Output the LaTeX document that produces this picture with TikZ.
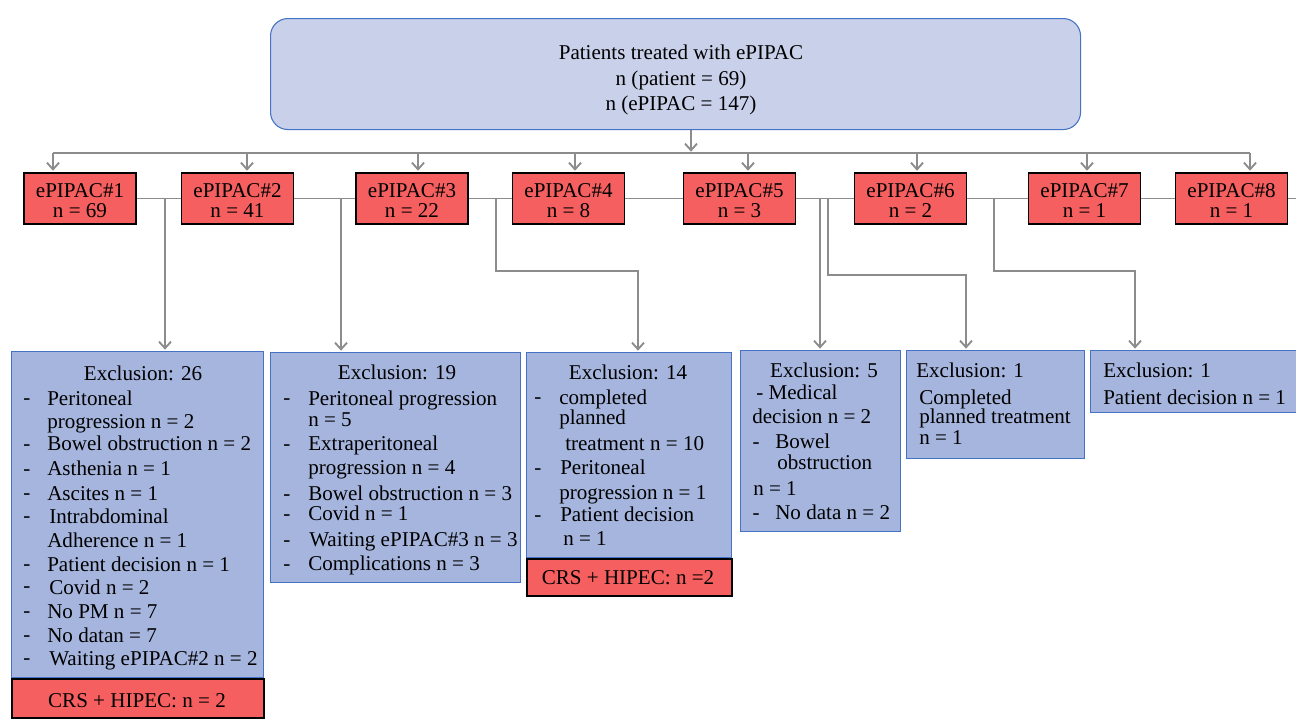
\documentclass[tikz,border=0pt]{standalone}
\usepackage{fontspec}
\setmainfont{Liberation Serif}
\usetikzlibrary{arrows.meta}
\definecolor{topfill}{HTML}{C9D1EA}
\definecolor{boxdraw}{HTML}{4472C4}
\definecolor{exfill}{HTML}{A5B5DD}
\definecolor{redfill}{HTML}{F65F5F}
\definecolor{conn}{HTML}{8C8C8C}
\newcounter{tlc}
\newcommand\tline[4][west]{\stepcounter{tlc}\node[tl,anchor=#1] (txt\arabic{tlc}) at (#2,#3) {#4};}
\newcommand\tdash[2]{\stepcounter{tlc}\node[tl,anchor=center] (dash\arabic{tlc}) at (#1,#2) {-};}
\newcommand\twol[2]{\raisebox{-3.6pt}[\height][\depth]{\begin{tabular}{@{}c@{}}#1\\#2\end{tabular}}}
\begin{document}
\begin{tikzpicture}[x=0.75pt,y=-0.75pt,
  every node/.style={font=\fontsize{15.8}{15}\selectfont},
  tl/.style={inner sep=0pt, text height=0.72em, text depth=0.22em, yshift=-3pt},
  topbox/.style={draw=boxdraw, fill=topfill, rounded corners=13pt, line width=0.8pt, inner sep=0pt, anchor=north west},
  exbox/.style={draw=boxdraw, fill=exfill, line width=0.8pt, inner sep=0pt, anchor=north west},
  crsbox/.style={draw=black, fill=redfill, line width=1.4pt, inner sep=0pt, anchor=north west},
  redbox/.style={draw=black, fill=redfill, line width=1.4pt, inner sep=0pt,
     minimum width=84pt, minimum height=38.25pt},
  conline/.style={draw=conn, line width=1.4pt},
  arr/.style={conline, -{Straight Barb[length=5pt,width=9pt]}, shorten >=1pt},
]
\useasboundingbox (0,0) rectangle (1296,726);

% top box
\node[topbox, minimum width=810*0.75pt, minimum height=111*0.75pt] (top) at (270,18) {};
\tline[center]{681}{52}{Patients treated with ePIPAC}
\tline[center]{681}{78}{n (patient = 69)}
\tline[center]{681}{103}{n (ePIPAC = 147)}

% ePIPAC boxes
\node[redbox] (b1) at (80,198.5) {\twol{ePIPAC\#1}{n = 69}};
\node[redbox] (b2) at (237.5,198.5) {\twol{ePIPAC\#2}{n = 41}};
\node[redbox] (b3) at (412,198.5) {\twol{ePIPAC\#3}{n = 22}};
\node[redbox] (b4) at (568.5,198.5) {\twol{ePIPAC\#4}{n = 8}};
\node[redbox] (b5) at (739.5,198.5) {\twol{ePIPAC\#5}{n = 3}};
\node[redbox] (b6) at (910.5,198.5) {\twol{ePIPAC\#6}{n = 2}};
\node[redbox] (b7) at (1084.5,198.5) {\twol{ePIPAC\#7}{n = 1}};
\node[redbox] (b8) at (1231.5,198.5) {\twol{ePIPAC\#8}{n = 1}};

% exclusion boxes
\node[exbox, minimum width=252*0.75pt, minimum height=326*0.75pt] (e26) at (11,351) {};
\node[crsbox, minimum width=252*0.75pt, minimum height=39*0.75pt] (crs1) at (11,678) {};
\node[exbox, minimum width=250*0.75pt, minimum height=230*0.75pt] (e19) at (270,352) {};
\node[exbox, minimum width=205*0.75pt, minimum height=205*0.75pt] (e14) at (526,352) {};
\node[crsbox, minimum width=205*0.75pt, minimum height=37*0.75pt] (crs2) at (526,558) {};
\node[exbox, minimum width=160*0.75pt, minimum height=181*0.75pt] (e5) at (740,350) {};
\node[exbox, minimum width=178*0.75pt, minimum height=108*0.75pt] (e1a) at (906,350) {};
\node[exbox, minimum width=210*0.75pt, minimum height=62*0.75pt] (e1b) at (1090,350) {};

% connectors
\coordinate (c0) at (691,153);
\draw[arr] (top.south -| c0) -- (c0);
\coordinate (a1) at (53,153);
\coordinate (a2) at (247,153);
\coordinate (a3) at (418,153);
\coordinate (a4) at (575,153);
\coordinate (a5) at (748,153);
\coordinate (a6) at (917,153);
\coordinate (a7) at (1087,153);
\coordinate (a8) at (1250,153);
\draw[conline] (a1) -- (a8);
\foreach \i in {1,...,8} { \draw[arr] (a\i) -- (a\i |- b\i.north); }

\draw[conline] (b1.east) -- (b2.west);
\draw[conline] (b2.east) -- (b3.west);
\draw[conline] (b3.east) -- (b4.west);
\draw[conline] (b4.east) -- (b5.west);
\draw[conline] (b5.east) -- (b6.west);
\draw[conline] (b6.east) -- (b7.west);
\draw[conline] (b7.east) -- (b8.west);
\coordinate (rend) at (1297,198.5);
\draw[conline] (b8.east) -- (rend);

\coordinate (j1) at (165,198.5);
\coordinate (j2) at (341,198.5);
\coordinate (j3) at (496,198.5);
\coordinate (k3) at (638,271);
\coordinate (j5a) at (820,198.5);
\coordinate (j5b) at (828,198.5);
\coordinate (k5) at (966,275);
\coordinate (j6) at (994,198.5);
\coordinate (k6) at (1135,271);
\draw[arr] (j1) -- (j1 |- e26.north);
\draw[arr] (j2) -- (j2 |- e19.north);
\draw[arr] (j3) |- (k3) -- (k3 |- e14.north);
\draw[arr] (j5a) -- (j5a |- e5.north);
\draw[arr] (j5b) |- (k5) -- (k5 |- e1a.north);
\draw[arr] (j6) |- (k6) -- (k6 |- e1b.north);

% Exclusion 26
\tline[center]{143}{373}{Exclusion: 26}
\tdash{27}{397}\tline{47}{398}{Peritoneal}
\tline{47}{421}{progression n = 2}
\tdash{27}{443}\tline{47}{443}{Bowel obstruction n = 2}
\tdash{27}{468}\tline{47}{468}{Asthenia n = 1}
\tdash{27}{492}\tline{47}{493}{Ascites n = 1}
\tdash{27}{515}\tline{49}{516}{Intrabdominal}
\tline{47}{540}{Adherence n = 1}
\tdash{27}{563}\tline{47}{564}{Patient decision n = 1}
\tdash{27}{585}\tline{49}{587}{Covid n = 2}
\tdash{27}{610}\tline{47}{611}{No PM n = 7}
\tdash{27}{634}\tline{47}{635}{No datan = 7}
\tdash{27}{657}\tline{49}{658}{Waiting ePIPAC\#2 n = 2}
\tline[center]{137}{700}{CRS + HIPEC: n = 2}

% Exclusion 19
\tline[center]{397}{372}{Exclusion: 19}
\tdash{287}{397}\tline{308}{398}{Peritoneal progression}
\tline{308}{419}{n = 5}
\tdash{287}{443}\tline{308}{443}{Extraperitoneal}
\tline{308}{467}{progression n = 4}
\tdash{287}{493}\tline{308}{493}{Bowel obstruction n = 3}
\tdash{287}{513}\tline{308}{513}{Covid n = 1}
\tdash{287}{539}\tline{309}{539}{Waiting ePIPAC\#3 n = 3}
\tdash{287}{563}\tline{308}{563}{Complications n = 3}

% Exclusion 14
\tline[center]{628}{372}{Exclusion: 14}
\tdash{538}{396}\tline{559}{397}{completed}
\tline{559}{417}{planned}
\tline{565}{443}{treatment n = 10}
\tdash{538}{467}\tline{560}{467}{Peritoneal}
\tline{559}{492}{progression n = 1}
\tdash{538}{514}\tline{560}{514}{Patient decision}
\tline{563}{538}{n = 1}
\tline[center]{628}{577}{CRS + HIPEC: n =2}

% Exclusion 5
\tline[center]{824}{370}{Exclusion: 5}
\tline{756}{392}{- Medical}
\tline{752}{416}{decision n = 2}
\tdash{756}{441}\tline{775}{441}{Bowel}
\tline{777}{462}{obstruction}
\tline{753}{488}{n = 1}
\tdash{756}{512}\tline{775}{512}{No data n = 2}

% Exclusion 1 (a)
\tline{916}{370}{Exclusion: 1}
\tline{919}{397}{Completed}
\tline{919}{416}{planned treatment}
\tline{919}{437}{n = 1}

% Exclusion 1 (b)
\tline{1103}{370}{Exclusion: 1}
\tline{1103}{397}{Patient decision n = 1}
\end{tikzpicture}
\end{document}
